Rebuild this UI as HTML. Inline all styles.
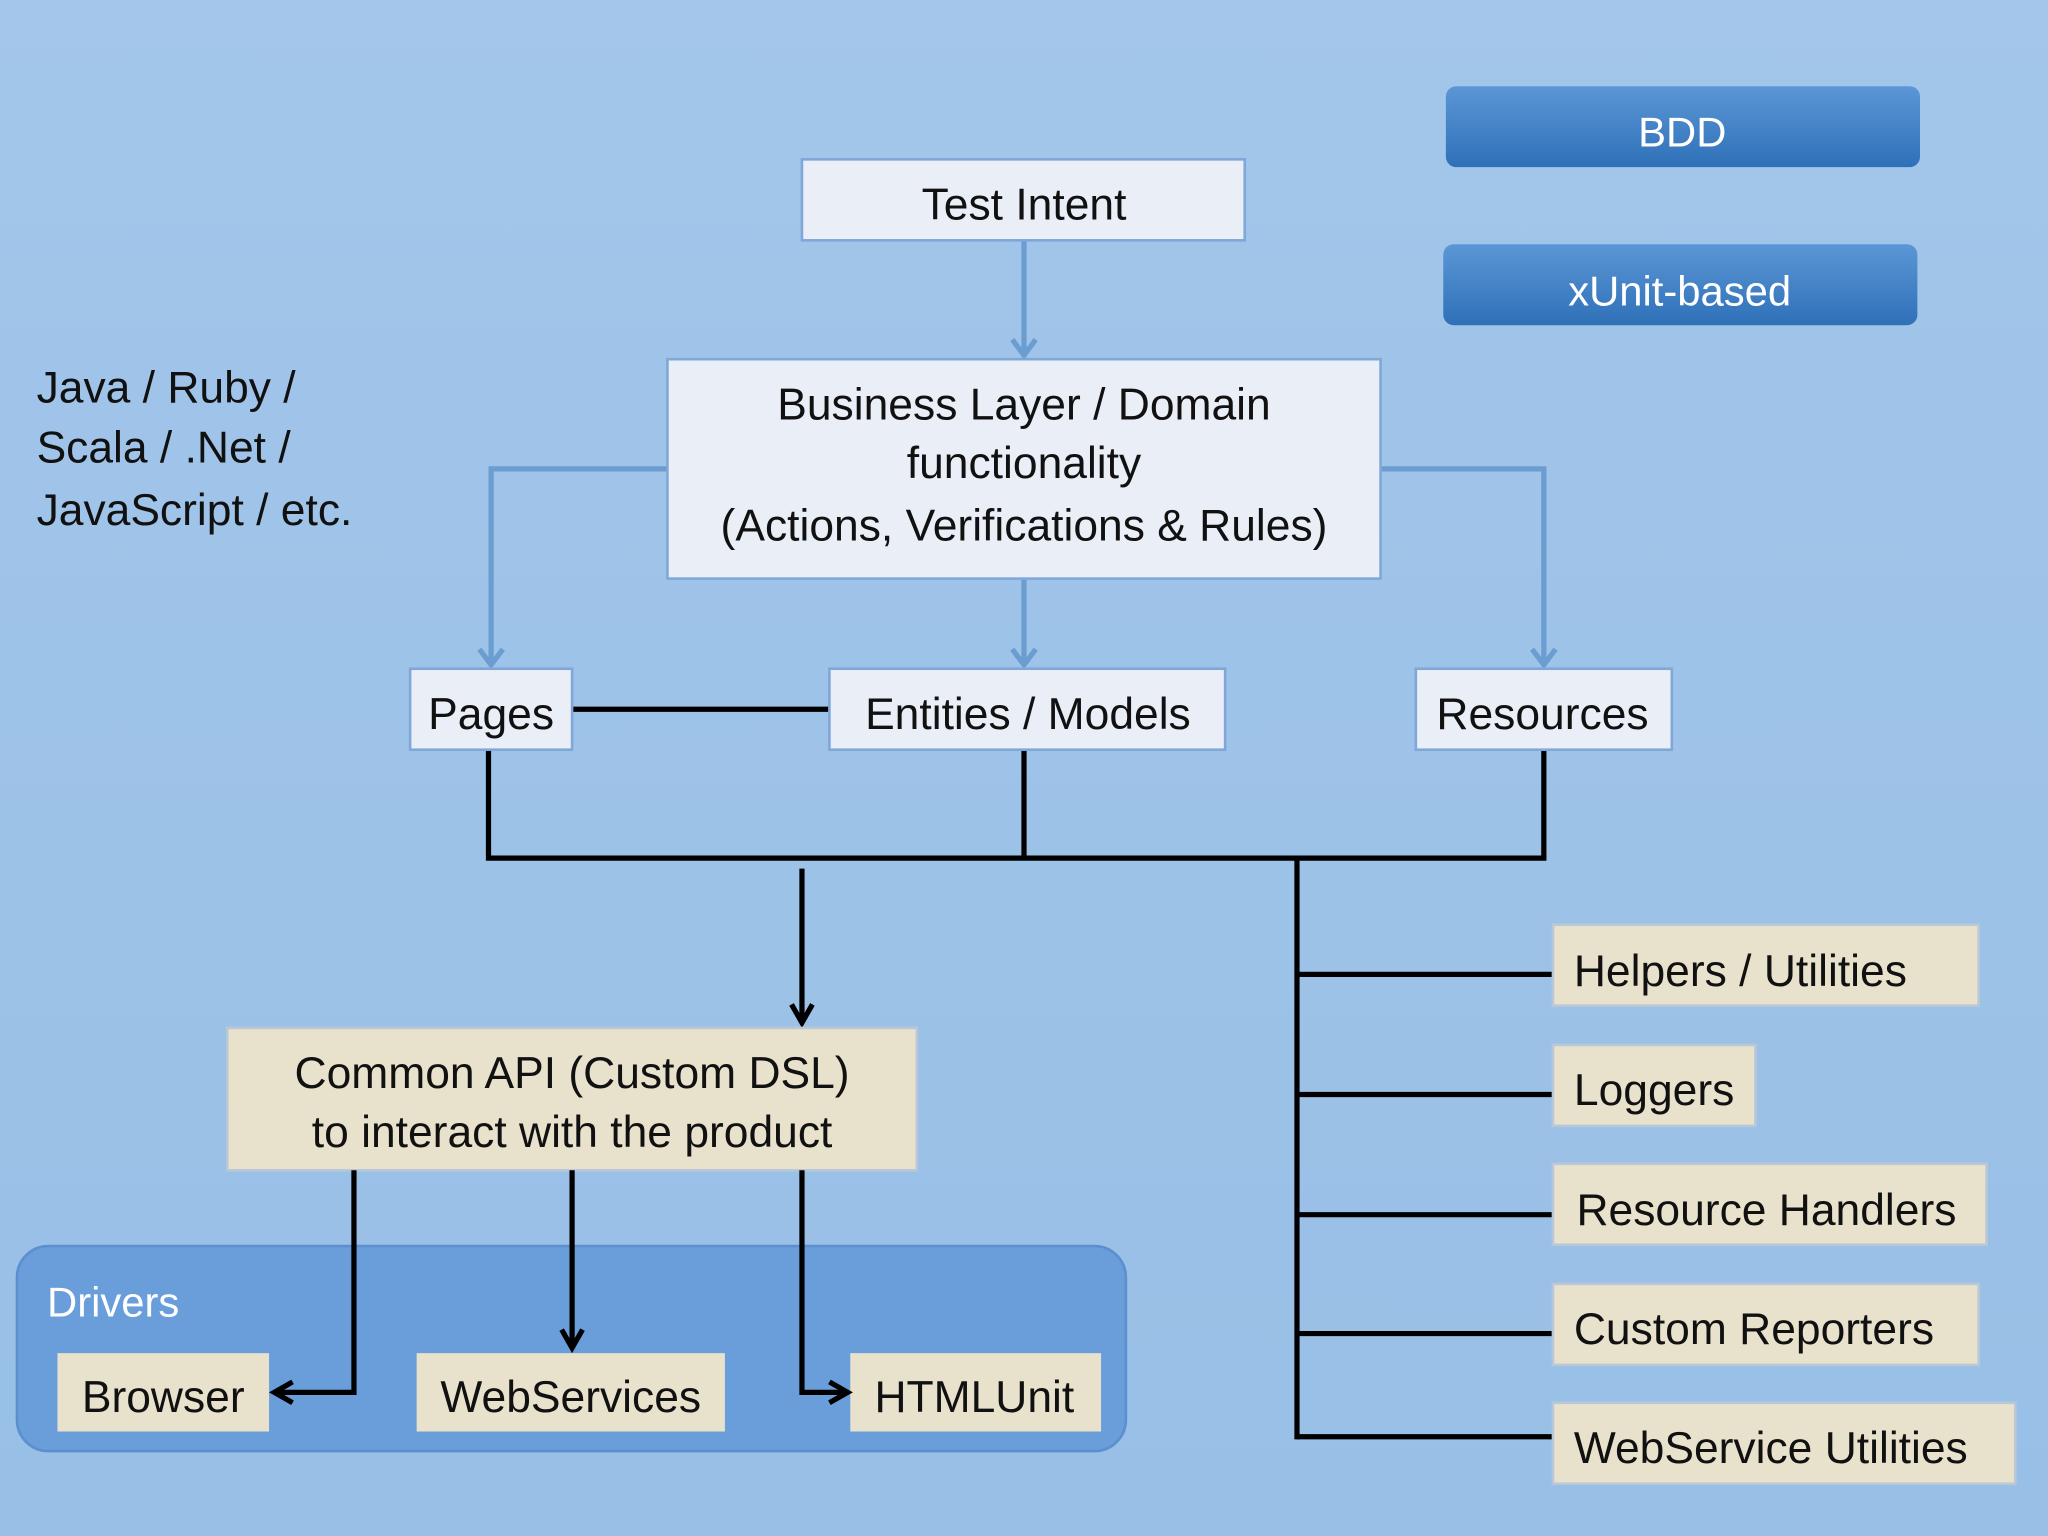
<!DOCTYPE html>
<html><head><meta charset="utf-8"><style>
html,body{margin:0;padding:0;background:#9ec3e8;}
svg{display:block;}
text{font-family:"Liberation Sans",sans-serif;fill:#111;}
</style></head><body>
<svg width="2048" height="1536" viewBox="0 0 1568 1176" xmlns="http://www.w3.org/2000/svg">
<defs>
<linearGradient id="bg" x1="0" y1="0" x2="0" y2="1"><stop offset="0" stop-color="#a3c6ea"/><stop offset="1" stop-color="#98bfe6"/></linearGradient>
<linearGradient id="btn" x1="0" y1="0" x2="0" y2="1"><stop offset="0" stop-color="#5b97d6"/><stop offset="1" stop-color="#2f70b8"/></linearGradient>
<marker id="ab" markerWidth="24" markerHeight="24" refX="12" refY="20" orient="0" markerUnits="userSpaceOnUse"><path d="M3,8 L12,20 L21,8" fill="none" stroke="#6b9dd0" stroke-width="4"/></marker>
<marker id="ak" markerWidth="22" markerHeight="22" refX="18" refY="11" orient="auto" markerUnits="userSpaceOnUse"><path d="M4,3 L18,11 L4,19" fill="none" stroke="#000" stroke-width="4"/></marker>
</defs>
<rect width="1568" height="1176" fill="url(#bg)"/>

<rect x="1107" y="66" width="363" height="62" rx="8" fill="url(#btn)"/>
<text x="1288" y="112" font-size="32" text-anchor="middle" style="fill:#fff">BDD</text>
<rect x="1105" y="187" width="363" height="62" rx="8" fill="url(#btn)"/>
<text x="1286" y="234" font-size="32" text-anchor="middle" style="fill:#fff">xUnit-based</text>

<text x="28" y="308" font-size="34">Java / Ruby /</text>
<text x="28" y="354" font-size="34">Scala / .Net /</text>
<text x="28" y="402" font-size="34">JavaScript / etc.</text>

<g stroke="#6b9dd0" stroke-width="4" fill="none">
<line x1="784" y1="184" x2="784" y2="272" marker-end="url(#ab)"/>
<line x1="784" y1="443" x2="784" y2="509" marker-end="url(#ab)"/>
<polyline points="511,359 376,359 376,509" marker-end="url(#ab)"/>
<polyline points="1057,359 1182,359 1182,509" marker-end="url(#ab)"/>
</g>

<g stroke="#000" stroke-width="4" fill="none">
<line x1="438" y1="543" x2="635" y2="543"/>
<polyline points="374,574 374,657 1184,657"/>
<line x1="784" y1="574" x2="784" y2="657"/>
<line x1="1182" y1="574" x2="1182" y2="657"/>
<line x1="614" y1="665" x2="614" y2="783" marker-end="url(#ak)"/>
<line x1="993" y1="657" x2="993" y2="1102"/>
<line x1="993" y1="746" x2="1189" y2="746"/>
<line x1="993" y1="838" x2="1189" y2="838"/>
<line x1="993" y1="930" x2="1189" y2="930"/>
<line x1="993" y1="1021" x2="1189" y2="1021"/>
<line x1="993" y1="1100" x2="1189" y2="1100"/>
</g>

<g fill="#e9eef7" stroke="#7fa8d8" stroke-width="2">
<rect x="614" y="122" width="339" height="62"/>
<rect x="511" y="275" width="546" height="168"/>
<rect x="314" y="512" width="124" height="62"/>
<rect x="635" y="512" width="303" height="62"/>
<rect x="1084" y="512" width="196" height="62"/>
</g>
<g font-size="34" text-anchor="middle">
<text x="784" y="168">Test Intent</text>
<text x="784" y="321">Business Layer / Domain</text>
<text x="784" y="366">functionality</text>
<text x="784" y="414">(Actions, Verifications &amp; Rules)</text>
<text x="376" y="558">Pages</text>
<text x="787" y="558">Entities / Models</text>
<text x="1181" y="558">Resources</text>
</g>

<g fill="#e8e2cd" stroke="#b9c7d6" stroke-width="2">
<rect x="1189" y="708" width="326" height="62"/>
<rect x="1189" y="800" width="155" height="62"/>
<rect x="1189" y="891" width="332" height="62"/>
<rect x="1189" y="983" width="326" height="62"/>
<rect x="1189" y="1074" width="354" height="62"/>
<rect x="174" y="787" width="528" height="109"/>
</g>
<g font-size="34">
<text x="1205" y="755">Helpers / Utilities</text>
<text x="1205" y="846">Loggers</text>
<text x="1207" y="938">Resource Handlers</text>
<text x="1205" y="1029">Custom Reporters</text>
<text x="1205" y="1120">WebService Utilities</text>
</g>
<g font-size="34" text-anchor="middle">
<text x="438" y="833">Common API (Custom DSL)</text>
<text x="438" y="878">to interact with the product</text>
</g>

<rect x="13" y="954" width="849" height="157" rx="24" fill="#6a9edb" stroke="#5b8fcf" stroke-width="2"/>
<text x="36" y="1008" font-size="32" style="fill:#fff">Drivers</text>
<g fill="#e8e2cd">
<rect x="44" y="1036" width="162" height="60"/>
<rect x="319" y="1036" width="236" height="60"/>
<rect x="651" y="1036" width="192" height="60"/>
</g>
<g font-size="34" text-anchor="middle">
<text x="125" y="1081">Browser</text>
<text x="437" y="1081">WebServices</text>
<text x="746" y="1081">HTMLUnit</text>
</g>
<g stroke="#000" stroke-width="4" fill="none">
<polyline points="271,896 271,1066 210,1066" marker-end="url(#ak)"/>
<line x1="438" y1="896" x2="438" y2="1032" marker-end="url(#ak)"/>
<polyline points="614,896 614,1066 649,1066" marker-end="url(#ak)"/>
</g>
</svg>
</body></html>
